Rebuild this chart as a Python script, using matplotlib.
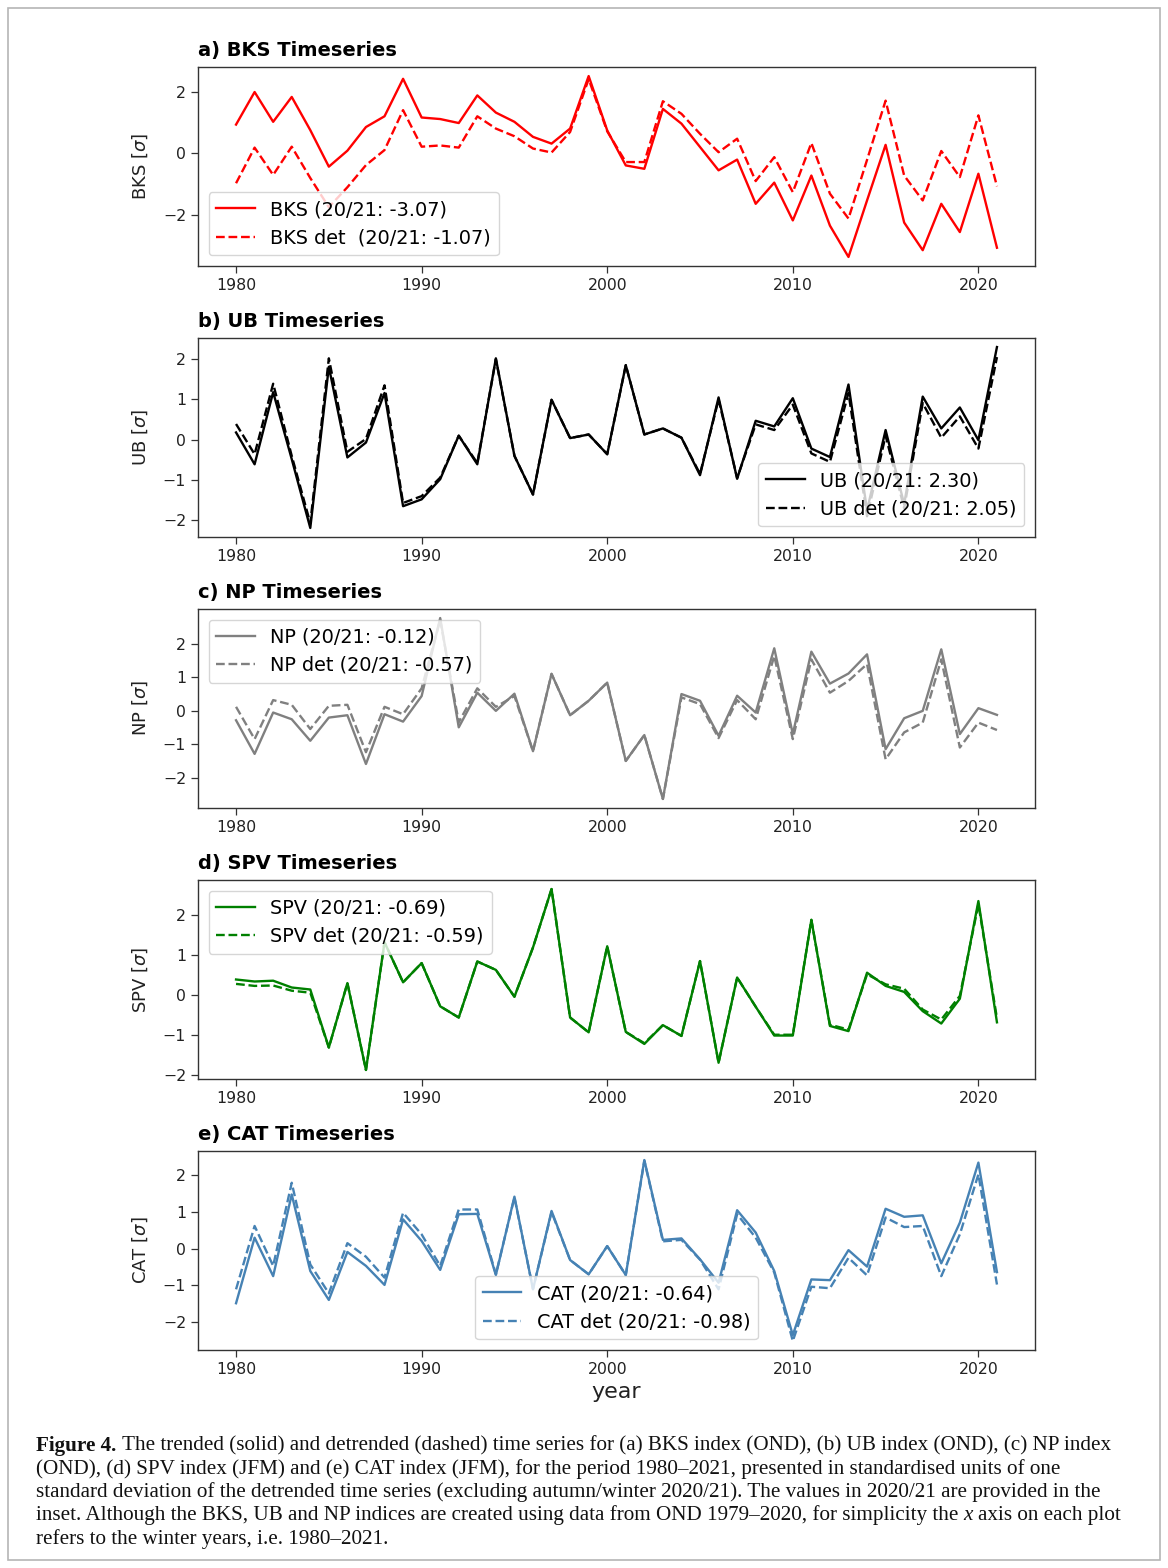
import matplotlib
matplotlib.use("Agg")
import matplotlib.pyplot as plt
from matplotlib.patches import Rectangle

# ---------------- data ----------------
years = list(range(1980, 2022))

bks = [0.94, 2.0, 1.03, 1.84, 0.76, -0.43, 0.09, 0.86, 1.21, 2.43,
       1.17, 1.12, 0.99, 1.89, 1.33, 1.03, 0.54, 0.32, 0.81, 2.52,
       0.75, -0.39, -0.5, 1.45, 0.97, 0.21, -0.55, -0.2, -1.64, -0.95,
       -2.18, -0.72, -2.35, -3.37, -1.53, 0.28, -2.25, -3.15, -1.64, -2.56,
       -0.66, -3.07]
bks_det = [-0.97, 0.19, -0.70, 0.22, -0.8, -1.75, -1.1, -0.38, 0.11, 1.41,
           0.22, 0.26, 0.19, 1.21, 0.81, 0.56, 0.16, 0.03, 0.70, 2.42,
           0.72, -0.28, -0.28, 1.70, 1.29, 0.64, 0.04, 0.48, -0.9, -0.12,
           -1.26, 0.34, -1.31, -2.12, -0.21, 1.72, -0.72, -1.53, 0.08, -0.77,
           1.24, -1.07]

ub = [0.18, -0.61, 1.18, -0.48, -2.19, 1.81, -0.44, -0.07, 1.16, -1.65,
      -1.48, -0.98, 0.1, -0.61, 2.02, -0.4, -1.36, 0.99, 0.04, 0.13,
      -0.36, 1.85, 0.13, 0.28, 0.05, -0.88, 1.05, -0.97, 0.47, 0.33,
      1.03, -0.22, -0.43, 1.37, -1.75, 0.24, -1.6, 1.07, 0.28, 0.8,
      -0.01, 2.30]
ub_det = [0.39, -0.36, 1.39, -0.4, -2.07, 2.02, -0.3, 0.02, 1.35, -1.57,
          -1.4, -0.94, 0.1, -0.58, 2.0, -0.4, -1.36, 0.99, 0.04, 0.13,
          -0.36, 1.85, 0.13, 0.28, 0.05, -0.85, 1.0, -0.95, 0.38, 0.24,
          0.87, -0.34, -0.55, 1.16, -1.9, 0.1, -1.7, 0.91, 0.05, 0.58,
          -0.22, 2.05]

np_idx = [-0.28, -1.28, -0.05, -0.25, -0.89, -0.2, -0.13, -1.58, -0.1, -0.32,
          0.44, 2.76, -0.49, 0.54, 0.0, 0.51, -1.2, 1.1, -0.13, 0.3,
          0.84, -1.49, -0.72, -2.62, 0.5, 0.3, -0.74, 0.45, -0.05, 1.86,
          -0.69, 1.76, 0.81, 1.11, 1.68, -1.14, -0.22, 0.0, 1.83, -0.69,
          0.08, -0.12]
np_det = [0.12, -0.84, 0.32, 0.18, -0.54, 0.15, 0.18, -1.23, 0.12, -0.1,
          0.67, 2.7, -0.34, 0.67, 0.12, 0.44, -1.2, 1.1, -0.13, 0.3,
          0.84, -1.49, -0.72, -2.62, 0.4, 0.2, -0.81, 0.32, -0.25, 1.63,
          -0.84, 1.53, 0.54, 0.89, 1.39, -1.44, -0.64, -0.35, 1.53, -1.09,
          -0.35, -0.57]

spv = [0.38, 0.33, 0.35, 0.18, 0.13, -1.32, 0.29, -1.88, 1.31, 0.31,
       0.79, -0.29, -0.57, 0.83, 0.62, -0.05, 1.18, 2.64, -0.57, -0.94,
       1.21, -0.93, -1.23, -0.76, -1.03, 0.84, -1.7, 0.43, -0.3, -1.02,
       -1.02, 1.87, -0.78, -0.91, 0.55, 0.22, 0.07, -0.41, -0.72, -0.1,
       2.34, -0.69]
spv_det = [0.27, 0.22, 0.23, 0.1, 0.05, -1.32, 0.29, -1.88, 1.31, 0.31,
           0.79, -0.29, -0.57, 0.83, 0.62, -0.05, 1.18, 2.64, -0.57, -0.94,
           1.21, -0.93, -1.21, -0.76, -1.03, 0.84, -1.7, 0.43, -0.3, -1.0,
           -1.0, 1.87, -0.75, -0.87, 0.51, 0.26, 0.15, -0.37, -0.62, -0.03,
           2.26, -0.59]

cat = [-1.49, 0.3, -0.75, 1.48, -0.61, -1.4, -0.09, -0.47, -0.99, 0.8,
       0.21, -0.58, 0.94, 0.95, -0.72, 1.42, -1.11, 1.03, -0.31, -0.7,
       0.07, -0.72, 2.42, 0.24, 0.28, -0.29, -0.93, 1.05, 0.44, -0.61,
       -2.36, -0.84, -0.86, -0.04, -0.49, 1.09, 0.87, 0.91, -0.4, 0.71,
       2.35, -0.64]
cat_det = [-1.11, 0.62, -0.47, 1.8, -0.43, -1.22, 0.15, -0.22, -0.79, 0.98,
           0.39, -0.47, 1.07, 1.07, -0.7, 1.4, -1.1, 1.0, -0.31, -0.7,
           0.07, -0.72, 2.4, 0.2, 0.24, -0.3, -1.11, 0.94, 0.3, -0.65,
           -2.52, -1.04, -1.08, -0.25, -0.73, 0.85, 0.59, 0.62, -0.75, 0.39,
           2.03, -0.98]

titles = ["a) BKS Timeseries", "b) UB Timeseries", "c) NP Timeseries",
          "d) SPV Timeseries", "e) CAT Timeseries"]
ylabels = ["BKS [$\\sigma$]", "UB [$\\sigma$]", "NP [$\\sigma$]",
           "SPV [$\\sigma$]", "CAT [$\\sigma$]"]
labels_solid = ["BKS (20/21: -3.07)", "UB (20/21: 2.30)", "NP (20/21: -0.12)",
                "SPV (20/21: -0.69)", "CAT (20/21: -0.64)"]
labels_det = ["BKS det  (20/21: -1.07)", "UB det (20/21: 2.05)", "NP det (20/21: -0.57)",
              "SPV det (20/21: -0.59)", "CAT det (20/21: -0.98)"]
series_solid = [bks, ub, np_idx, spv, cat]
series_det = [bks_det, ub_det, np_det, spv_det, cat_det]
colors = ["red", "black", "grey", "green", "steelblue"]
legend_locs = ["lower left", "lower right", "upper left", "upper left", "lower center"]
yticks_sets = [[-2, 0, 2], [-2, -1, 0, 1, 2], [-2, -1, 0, 1, 2],
               [-2, -1, 0, 1, 2], [-2, -1, 0, 1, 2]]
xticks = [1980, 1990, 2000, 2010, 2020]

caption_lines = [
    [("Figure 4.", "bold"), ("The trended (solid) and detrended (dashed) time series for (a) BKS index (OND), (b) UB index (OND), (c) NP index", "normal")],
    [("(OND), (d) SPV index (JFM) and (e) CAT index (JFM), for the period 1980\u20132021, presented in standardised units of one", "normal")],
    [("standard deviation of the detrended time series (excluding autumn/winter 2020/21). The values in 2020/21 are provided in the", "normal")],
    [("inset. Although the BKS, UB and NP indices are created using data from OND 1979\u20132020, for simplicity the", "normal"),
     ("x", "italic"), ("axis on each plot", "normal")],
    [("refers to the winter years, i.e. 1980\u20132021.", "normal")],
]

# ---------------- figure ----------------
W, H = 1168, 1568
fig = plt.figure(figsize=(W / 100, H / 100), dpi=100)
fig.patch.set_facecolor("white")

# page border
fig.patches.append(Rectangle((8 / W, 1 - 1560 / H), (1160 - 8) / W, (1560 - 8) / H,
                             transform=fig.transFigure, fill=False,
                             edgecolor="#b5b5b5", linewidth=1.2))

left_px, right_px = 198, 1035
tops_px = [67, 338, 609, 880, 1151]
ax_h_px = 199

for i in range(5):
    top = tops_px[i]
    ax = fig.add_axes([left_px / W, 1 - (top + ax_h_px) / H,
                       (right_px - left_px) / W, ax_h_px / H])
    ax.plot(years, series_solid[i], color=colors[i], lw=1.7, ls="-",
            label=labels_solid[i])
    ax.plot(years, series_det[i], color=colors[i], lw=1.7, ls="--",
            label=labels_det[i])
    ax.set_xticks(xticks)
    ax.set_yticks(yticks_sets[i])
    ax.tick_params(labelsize=11.3, width=0.9, length=5, colors="#333333",
                   labelcolor="#222222")
    for s in ax.spines.values():
        s.set_linewidth(1.0)
        s.set_color("#333333")
    ax.set_title(titles[i], loc="left", fontsize=14, fontweight="bold", pad=8)
    ax.set_ylabel(ylabels[i], fontsize=13, labelpad=9, color="#222222")
    ax.legend(loc=legend_locs[i], fontsize=13.9, borderaxespad=0.55)
    if i == 4:
        ax.set_xlabel("year", fontsize=16, labelpad=4, color="#222222")

# ---------------- caption ----------------
fig.canvas.draw()
renderer = fig.canvas.get_renderer()
fam = "Liberation Serif"

# fit font size so the third (full) line spans roughly its measured width
probe = fig.text(0, 0, caption_lines[2][0][0], fontsize=14, family=fam)
wprobe = probe.get_window_extent(renderer=renderer).width
probe.remove()
target_w = 1066
fs = 14 * target_w / wprobe

line_centers = [1443, 1467, 1490, 1513, 1537]
x_start = 36
space_px = fs * 100 / 72 * 0.25
for runs, yc in zip(caption_lines, line_centers):
    x = x_start
    for k, (txt, style) in enumerate(runs):
        kw = {}
        if style == "bold":
            kw["fontweight"] = "bold"
        elif style == "italic":
            kw["fontstyle"] = "italic"
        t = fig.text(x / W, 1 - yc / H, txt, fontsize=fs, family=fam,
                     va="center_baseline", ha="left", color="#111111", **kw)
        bb = t.get_window_extent(renderer=renderer)
        x = bb.x1 + space_px

fig.savefig("out.png", dpi=100, facecolor="white")
